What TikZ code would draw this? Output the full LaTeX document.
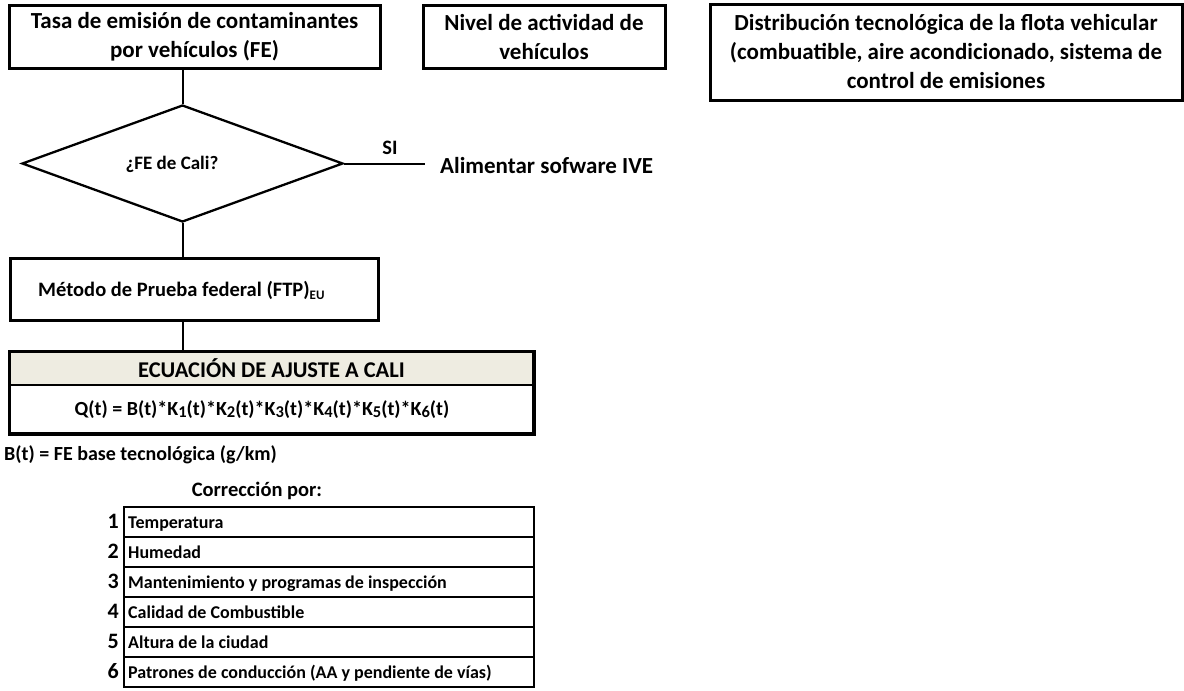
\documentclass[tikz,border=0pt]{standalone}
\usepackage{fontspec}
\setmainfont{Carlito}
\usetikzlibrary{shapes.geometric}
\definecolor{hdr}{HTML}{EEECE1}
\newcommand\fbig{\fontsize{23}{29}\selectfont\bfseries}
\newcommand\fmid{\fontsize{20.5}{25}\selectfont\bfseries}
\newcommand\fhdr{\fontsize{22.5}{25}\selectfont\bfseries}
\newcommand\feq{\fontsize{20}{25}\selectfont\bfseries}
\newcommand\fdec{\fontsize{19}{22}\selectfont\bfseries}
\newcommand\fsml{\fontsize{18}{20}\selectfont\bfseries}
\newcommand\fnum{\fontsize{22}{24}\selectfont\bfseries}
\newcommand\kd[1]{{\fontsize{16.5}{16}\selectfont\raisebox{-1.2pt}{#1}}}
\begin{document}
\begin{tikzpicture}[x=1pt,y=-1pt,
  box/.style={draw, line width=3pt, inner sep=0pt, align=center},
  conn/.style={line width=2pt},
  rowbox/.style={draw, line width=2pt, anchor=north west, minimum width=410pt, minimum height=30pt, inner sep=0pt},
  rowtxt/.style={anchor=base west, font=\fsml, inner sep=0pt},
  numtxt/.style={anchor=base east, font=\fnum, inner sep=0pt}]
\useasboundingbox (0,0) rectangle (1184,691);

% top boxes
\node[box, font=\fbig, minimum width=371pt, minimum height=63pt] (fe) at (194.5,36.5) {Tasa de emisión de contaminantes\\por vehículos (FE)};
\node[box, font=\fbig, minimum width=242pt, minimum height=63pt] (act) at (544,36.5) {Nivel de actividad de\\vehículos};
\node[box, font=\fbig, minimum width=472pt, minimum height=96pt] (dist) at (946,52) {Distribución tecnológica de la flota vehicular\\(combuatible, aire acondicionado, sistema de\\control de emisiones};

% decision
\node[draw, diamond, line width=2.3pt, minimum width=321pt, minimum height=117pt, inner sep=0pt] (dec) at (182.5,163.5) {};
\node[font=\fdec, inner sep=0pt] (q) at (172,164) {¿FE de Cali?};
\draw[conn] (dec.north |- fe.south) -- (dec.north);

% SI branch
\node[anchor=west, font=\fbig, inner sep=0pt] (alim) at (440,166) {Alimentar sofware IVE};
\coordinate (siend) at (425,163.5);
\draw[conn] (dec.east) -- (siend);
\node[font=\fmid, inner sep=0pt] (si) at (390,148) {SI};

% FTP box
\node[box, minimum width=368pt, minimum height=62pt] (ftp) at (194,289) {};
\node[anchor=west, font=\fmid, inner sep=0pt] (ftpt) at (38,290) {Método de Prueba federal (FTP){\fontsize{13}{13}\selectfont\raisebox{-3pt}{EU}}};
\draw[conn] (dec.south) -- (dec.south |- ftp.north);

% equation table
\node[draw, fill=hdr, line width=2pt, minimum width=523pt, minimum height=33pt, inner sep=0pt, font=\fhdr] (eqh) at (271.5,368.5) {ECUACIÓN DE AJUSTE A CALI};
\node[draw, line width=2pt, minimum width=523pt, minimum height=48pt, inner sep=0pt] (eqb) at (271.5,409) {};
\node[font=\feq, inner sep=0pt] (eqt) at (262,410) {Q(t) = B(t)*K\kd{1}(t)*K\kd{2}(t)*K\kd{3}(t)*K\kd{4}(t)*K\kd{5}(t)*K\kd{6}(t)};
\draw[line width=3pt] (eqh.north west) rectangle (eqb.south east);
\draw[conn] (dec.south |- ftp.south) -- (dec.south |- eqh.north);

% notes
\node[anchor=west, font=\fontsize{20}{24}\selectfont\bfseries, inner sep=0pt] (bt) at (4,455) {B(t) = FE base tecnológica (g/km)};
\node[font=\fmid, inner sep=0pt] (corr) at (257,491) {Corrección por:};

% correction table
\foreach \i/\t in {1/Temperatura, 2/Humedad, 3/Mantenimiento y programas de inspección, 4/Calidad de Combustible, 5/Altura de la ciudad, 6/Patrones de conducción (AA y pendiente de vías)} {
  \node[rowbox] (r\i) at (123,{506+30*(\i-1)}) {};
  \node[rowtxt] (rt\i) at ([xshift=5pt,yshift=-6pt]r\i.west) {\t};
  \node[numtxt] (n\i) at ([xshift=-4pt,yshift=-6pt]r\i.west) {\i};
}
\end{tikzpicture}
\end{document}
